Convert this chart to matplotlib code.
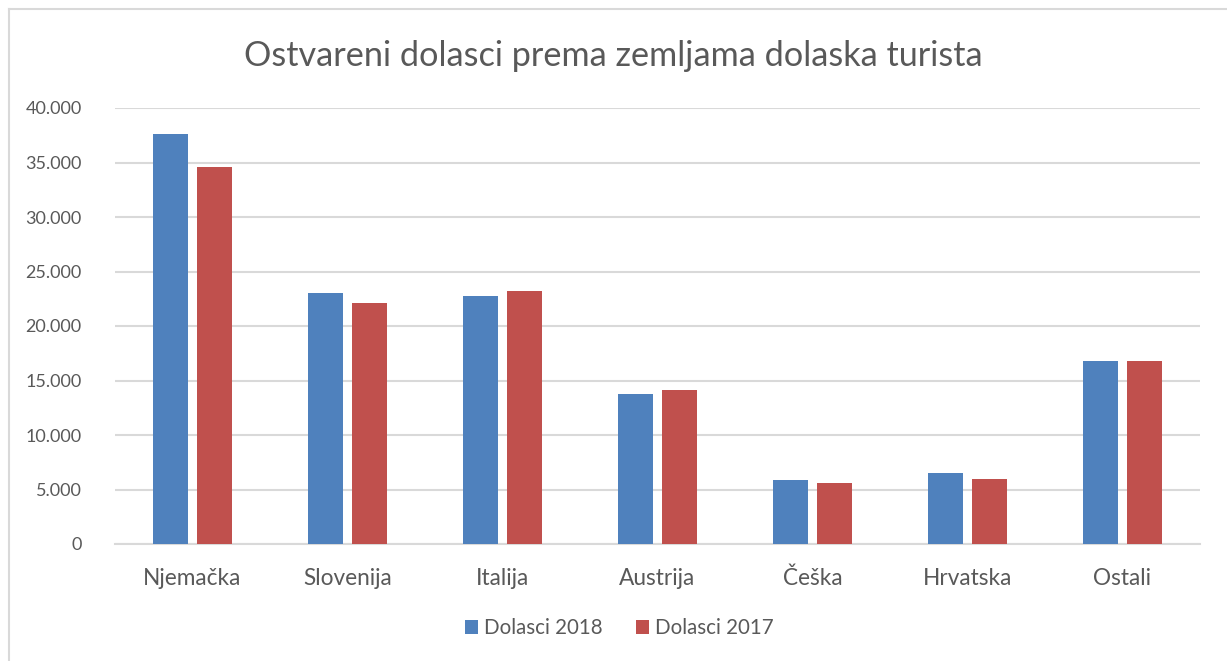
import matplotlib
matplotlib.use("Agg")
import matplotlib.pyplot as plt
from matplotlib.ticker import FuncFormatter
from matplotlib.lines import Line2D
import numpy as np

# Data
zemlje = ["Njemačka", "Slovenija", "Italija", "Austrija", "Češka", "Hrvatska", "Ostali"]
dolasci_2018 = [37600, 23000, 22750, 13800, 5900, 6500, 16750]
dolasci_2017 = [34600, 22150, 23200, 14130, 5570, 5950, 16750]

plt.rcParams['font.family'] = ['Lato', 'DejaVu Sans']
siva = "#595959"

fig = plt.figure(figsize=(12.27, 6.61), dpi=100)
ax = fig.add_axes([115/1227, 1 - 544/661, (1200-115)/1227, (544-108)/661])

x = np.arange(len(zemlje))
w = 0.226
ax.bar(x - 0.145, dolasci_2018, w, color="#4f81bd", label="Dolasci 2018", zorder=3)
ax.bar(x + 0.145, dolasci_2017, w, color="#c0504d", label="Dolasci 2017", zorder=3)

ax.set_xlim(-0.5, len(zemlje) - 0.5)
ax.set_ylim(0, 40000)
ax.set_yticks(range(0, 40001, 5000))
ax.yaxis.set_major_formatter(FuncFormatter(lambda v, p: "{:,.0f}".format(v).replace(",", ".")))
ax.grid(axis="y", color="#d9d9d9", linewidth=1.5, zorder=0)
for s in ["top", "right", "left"]:
    ax.spines[s].set_visible(False)
ax.spines["bottom"].set_color("#d9d9d9")
ax.spines["bottom"].set_linewidth(1.5)
ax.tick_params(axis="both", length=0, colors=siva)
ax.tick_params(axis="y", pad=24, labelsize=13)
ax.tick_params(axis="x", pad=17, labelsize=16.3)
ax.set_xticks(x)
ax.set_xticklabels(zemlje)

fig.text(0.5, 1 - 56/661, "Ostvareni dolasci prema zemljama dolaska turista",
         ha="center", va="center", fontsize=24.7, color=siva)

leg = fig.legend(loc="center", bbox_to_anchor=(0.5 + 6/1227, 1 - 628/661), ncol=2, frameon=False,
                 fontsize=14.8, handlelength=0.65, handleheight=0.65, handletextpad=0.3,
                 columnspacing=1.6)
for t in leg.get_texts():
    t.set_color(siva)

# outer chart border (left and top edges visible)
fig.add_artist(Line2D([9/1227, 9/1227], [0, 1 - 9/661], color="#d9d9d9", linewidth=1.5))
fig.add_artist(Line2D([9/1227, 1], [1 - 9/661, 1 - 9/661], color="#d9d9d9", linewidth=1.5))

fig.savefig("out.png", dpi=100)
